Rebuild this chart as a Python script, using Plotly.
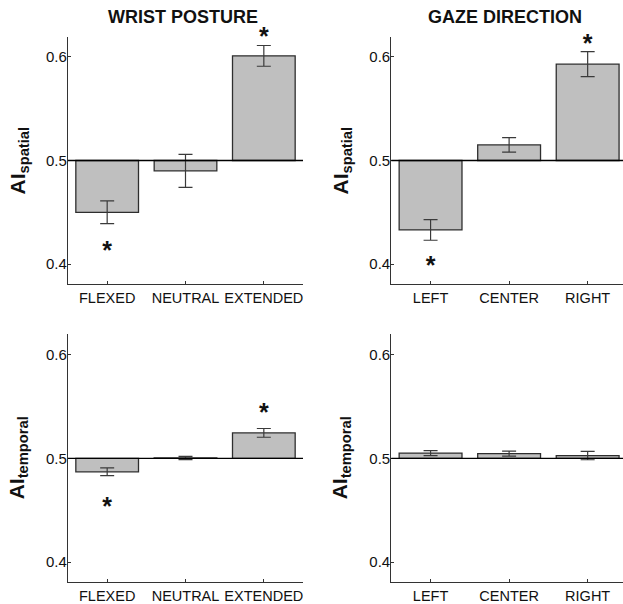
import plotly.graph_objects as go

# ---- data ----
wrist_cats = ["FLEXED", "NEUTRAL", "EXTENDED"]
gaze_cats = ["LEFT", "CENTER", "RIGHT"]

wrist_spatial = [0.450, 0.490, 0.601]
wrist_spatial_err = [0.011, 0.016, 0.010]
wrist_spatial_star = [0.416, None, 0.623]

gaze_spatial = [0.433, 0.515, 0.593]
gaze_spatial_err = [0.010, 0.007, 0.012]
gaze_spatial_star = [0.402, None, 0.6165]

wrist_temporal = [0.487, 0.5003, 0.5245]
wrist_temporal_err = [0.0037, 0.0015, 0.0042]
wrist_temporal_star = [0.457, None, 0.547]

gaze_temporal = [0.505, 0.5045, 0.5026]
gaze_temporal_err = [0.0024, 0.0024, 0.004]
gaze_temporal_star = [None, None, None]

baseline = 0.5
y_ticks = [0.4, 0.5, 0.6]
y_tick_labels = ["0.4", "0.5", "0.6"]

titles = ["WRIST POSTURE", "GAZE DIRECTION"]
ylabels = ["AI<sub>spatial</sub>", "AI<sub>temporal</sub>"]

# ---- styling ----
W, H = 623, 604
FONT = "Liberation Sans, Arial, Helvetica, sans-serif"
BAR_FILL = "#bfbfbf"
BAR_EDGE = "#2e2e2e"
ERR_COL = "#3a3a3a"
AX_COL = "#333333"
Y_RANGE = [0.3805, 0.6195]
PANEL_H_PX = 248.0
px2data = (Y_RANGE[1] - Y_RANGE[0]) / PANEL_H_PX
STAR_SHIFT_PX = 5.5  # glyph of '*' sits above the text centre
EXT_PX = 20.0        # extra room for stars drawn above/below the axes
star_shift = STAR_SHIFT_PX * px2data

panels = [
    # (cats, vals, err, star, xdomain, ydomain, xrange)
    (wrist_cats, wrist_spatial, wrist_spatial_err, wrist_spatial_star,
     [68 / W, 303 / W], [1 - 284.3 / H, 1 - 36.7 / H], [-0.5, 2.5]),
    (gaze_cats, gaze_spatial, gaze_spatial_err, gaze_spatial_star,
     [391.3 / W, 1.0], [1 - 284.3 / H, 1 - 36.7 / H], [-0.5, 2.45]),
    (wrist_cats, wrist_temporal, wrist_temporal_err, wrist_temporal_star,
     [68 / W, 303 / W], [1 - 582.3 / H, 1 - 334.3 / H], [-0.5, 2.5]),
    (gaze_cats, gaze_temporal, gaze_temporal_err, gaze_temporal_star,
     [391.3 / W, 1.0], [1 - 582.3 / H, 1 - 334.3 / H], [-0.5, 2.45]),
]

fig = go.Figure()
layout = dict(
    width=W, height=H,
    margin=dict(l=0, r=0, t=0, b=0),
    paper_bgcolor="white", plot_bgcolor="rgba(0,0,0,0)",
    showlegend=False,
    font=dict(family=FONT, color="#111111"),
    bargap=0.2,
)
shapes = []
annotations = []

for i, (cats, vals, err, star, xd, yd, xr) in enumerate(panels):
    n = i + 1
    xa = "x" if n == 1 else f"x{n}"
    ya = "y" if n == 1 else f"y{n}"
    ya_star = f"y{n + 4}"
    fig.add_trace(go.Bar(
        x=cats, y=[v - baseline for v in vals], base=baseline,
        width=0.8, marker=dict(color=BAR_FILL, line=dict(color=BAR_EDGE, width=1.3)),
        xaxis=xa, yaxis=ya, hoverinfo="skip",
    ))
    fig.add_trace(go.Scatter(
        x=cats, y=vals, mode="markers", marker=dict(size=1, color="rgba(0,0,0,0)"),
        error_y=dict(type="data", array=err, visible=True, color=ERR_COL,
                     thickness=1.2, width=7),
        xaxis=xa, yaxis=ya, hoverinfo="skip",
    ))
    sx = [c for c, s in zip(cats, star) if s is not None]
    sy = [s - star_shift for s in star if s is not None]
    if sx:
        fig.add_trace(go.Scatter(
            x=sx, y=sy, mode="text", text=["<b>*</b>"] * len(sx),
            textposition="middle center", cliponaxis=False,
            textfont=dict(size=25, family=FONT, color="#111111"),
            xaxis=xa, yaxis=ya_star, hoverinfo="skip",
        ))
    shapes.append(dict(type="line", xref=f"{xa} domain", yref=ya,
                       x0=0, x1=1, y0=baseline, y1=baseline,
                       line=dict(color="black", width=1.3), layer="above"))
    layout["xaxis" if n == 1 else f"xaxis{n}"] = dict(
        domain=xd, anchor=ya, range=xr, type="category",
        showline=True, linecolor=AX_COL, linewidth=1.2,
        ticks="inside", ticklen=3, tickcolor=AX_COL,
        showgrid=False, zeroline=False,
        tickfont=dict(size=14.5, family=FONT, color="#111111"),
    )
    layout["yaxis" if n == 1 else f"yaxis{n}"] = dict(
        domain=yd, anchor=xa, range=Y_RANGE,
        tickvals=y_ticks, ticktext=y_tick_labels,
        showline=True, linecolor=AX_COL, linewidth=1.2,
        ticks="inside", ticklen=3, tickcolor=AX_COL,
        ticklabelstandoff=-3,
        showgrid=False, zeroline=False,
        tickfont=dict(size=15, family=FONT, color="#111111"),
    )
    # hidden twin axis with the same scale but extra room for the stars
    layout[f"yaxis{n + 4}"] = dict(
        domain=[yd[0] - EXT_PX / H, yd[1] + EXT_PX / H], anchor=xa,
        range=[Y_RANGE[0] - EXT_PX * px2data, Y_RANGE[1] + EXT_PX * px2data],
        visible=False, showgrid=False, zeroline=False,
    )
    # y-axis label
    row = i // 2
    col = i % 2
    annotations.append(dict(
        x=(18 if col == 0 else 341) / W, y=(yd[0] + yd[1]) / 2,
        xref="paper", yref="paper", text="<b>" + ylabels[row] + "</b>",
        textangle=-90, showarrow=False, xanchor="center", yanchor="middle",
        font=dict(size=21, family=FONT, color="#111111"),
    ))

annotations.append(dict(x=183 / W, y=1 - 17 / H, xref="paper", yref="paper",
                        text="<b>" + titles[0] + "</b>", showarrow=False,
                        xanchor="center", yanchor="middle",
                        font=dict(size=18, family=FONT, color="#111111")))
annotations.append(dict(x=505 / W, y=1 - 17 / H, xref="paper", yref="paper",
                        text="<b>" + titles[1] + "</b>", showarrow=False,
                        xanchor="center", yanchor="middle",
                        font=dict(size=18, family=FONT, color="#111111")))

layout["shapes"] = shapes
layout["annotations"] = annotations
fig.update_layout(**layout)
fig.write_html("out.html", config={"displayModeBar": False},
               post_script="document.body.style.margin='0px';document.body.style.overflow='hidden';")
